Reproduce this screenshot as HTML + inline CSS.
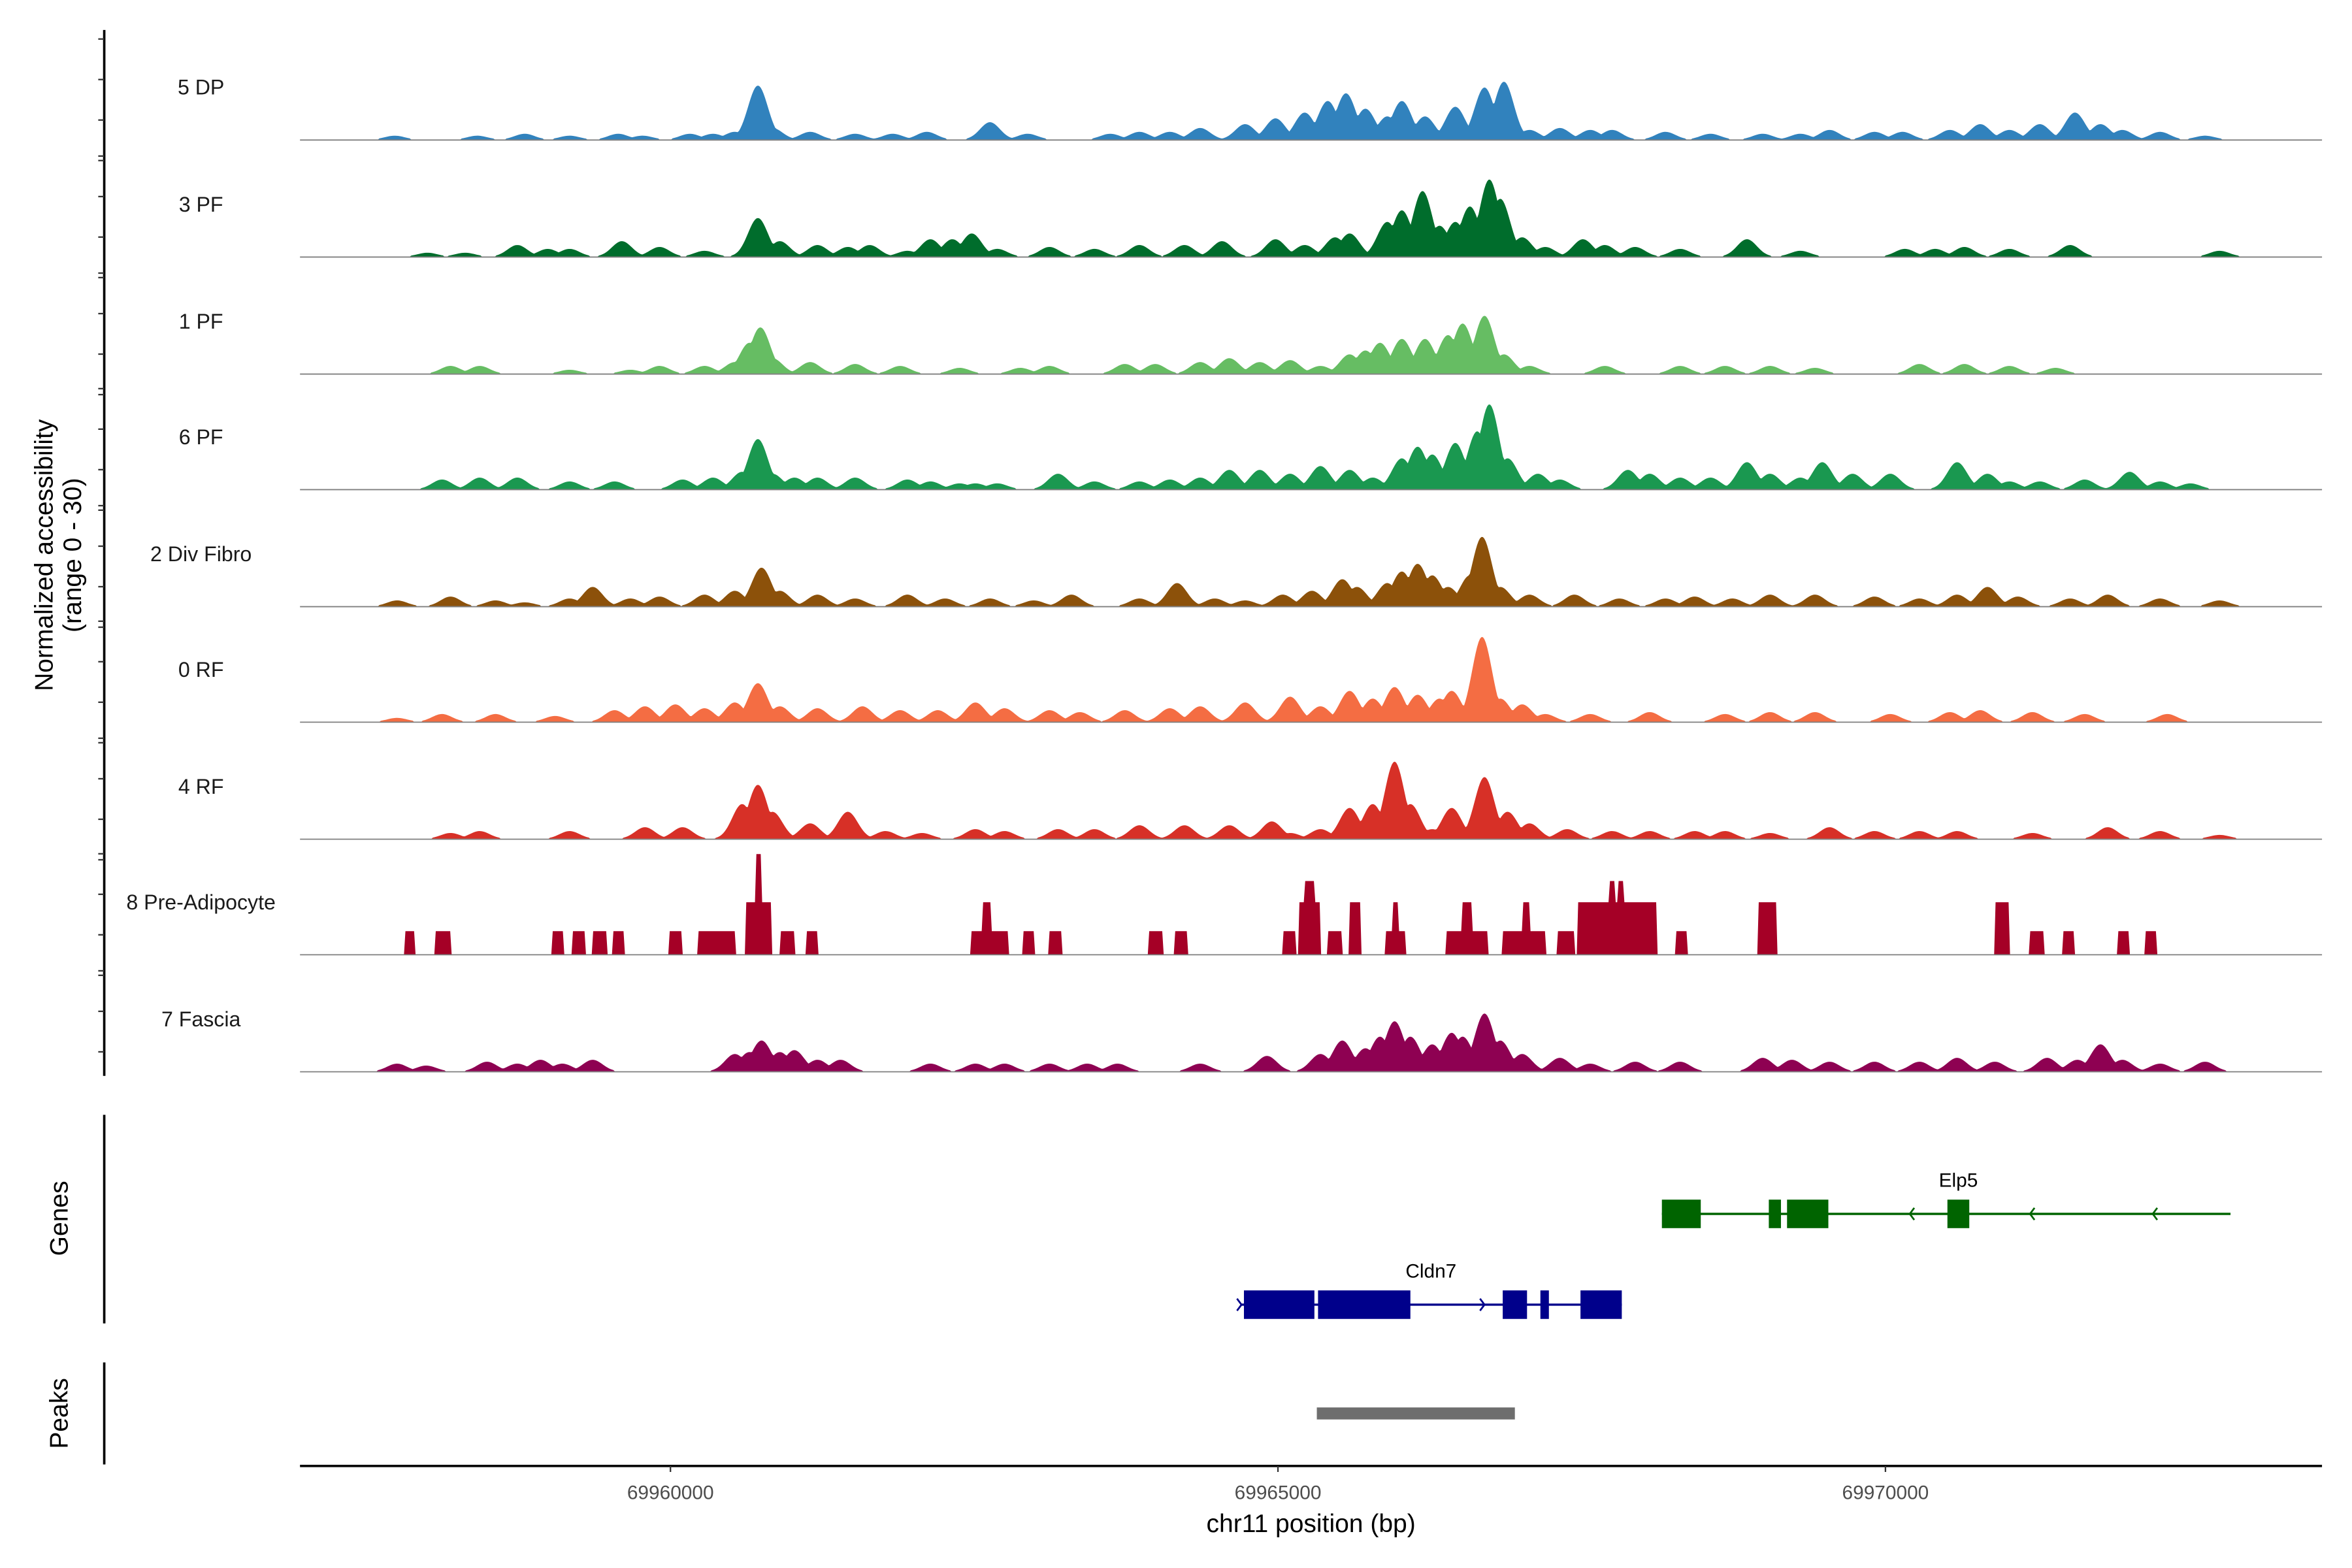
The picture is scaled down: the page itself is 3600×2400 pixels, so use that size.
<!DOCTYPE html>
<html><head><meta charset="utf-8"><style>
html,body{margin:0;padding:0;background:#fff;}
svg{display:block;}
text{font-family:"Liberation Sans",Arial,sans-serif;}
</style></head><body>
<svg id="chart" xmlns="http://www.w3.org/2000/svg" width="3600" height="2400" viewBox="0 0 1568 1045" preserveAspectRatio="none">
<rect x="0" y="0" width="1568" height="1045" fill="#fff"/>
<g id="tracks"></g>
<g id="axes"></g>
<g id="genes"></g>
</svg>
<script>
// ---- data (positions in kb on chr11, heights in normalized accessibility units 0-30) ----
const trackNames = ["5 DP","3 PF","1 PF","6 PF","2 Div Fibro","0 RF","4 RF","8 Pre-Adipocyte","7 Fascia"];
const trackColors = ["#3182BD","#006D2C","#66BD63","#1A9850","#8C510A","#F46D43","#D73027","#A50026","#8E0152"];
const peaks5DP = [[57.73,1],[58.41,1],[58.80,1.5],[59.17,1],[59.57,1.5],[59.77,1],[60.16,1.5],[60.35,1.5],[60.53,2],[60.72,14],[60.84,3],[61.15,2],[61.52,1.5],[61.83,1.5],[62.11,2],[62.63,4.5],[62.94,1.5],[63.62,1.5],[63.86,2],[64.11,2],[64.36,3],[64.73,4],[64.98,5.5],[65.22,7],[65.41,10],[65.56,12],[65.72,8],[65.90,6],[66.02,10],[66.21,6],[66.46,8.5],[66.70,13.5],[66.86,15],[67.07,2.5],[67.32,3],[67.57,2.5],[67.75,2.5],[68.19,2],[68.56,1.5],[68.99,1.5],[69.30,1.5],[69.54,2.5],[69.91,2],[70.14,2],[70.53,2.5],[70.78,4],[71.02,2.5],[71.27,4],[71.56,7],[71.77,4],[71.95,2.5],[72.26,2],[72.63,1]];
const peaks3PF = [[58.00,1],[58.31,1],[58.74,3],[58.99,2],[59.17,2],[59.60,4],[59.91,2.5],[60.28,1.5],[60.72,10],[60.90,4],[61.21,3],[61.46,2.5],[61.64,3],[61.95,1.5],[62.14,4.5],[62.32,4.5],[62.48,6],[62.69,2],[63.12,2.5],[63.49,2],[63.86,3],[64.23,3],[64.54,4],[64.98,4.5],[65.22,3],[65.47,5],[65.59,6],[65.90,9],[66.02,12],[66.19,17],[66.33,8],[66.46,9],[66.58,13],[66.74,20],[66.83,15],[67.01,5],[67.20,2.5],[67.51,4.5],[67.69,3],[67.94,2.5],[68.31,2],[68.86,4.5],[69.30,1.5],[70.16,2],[70.41,2],[70.65,2.5],[71.02,2],[71.52,3],[72.75,1.5]];
const peaks1PF = [[58.19,2],[58.43,2],[59.17,1],[59.67,1],[59.91,2],[60.28,2],[60.53,3],[60.65,8],[60.74,12],[60.84,4],[61.15,3],[61.52,2.5],[61.89,2],[62.38,1.5],[62.88,1.5],[63.12,2],[63.74,2.5],[63.99,2.5],[64.36,3],[64.60,4],[64.85,3],[65.10,3.5],[65.35,2],[65.59,5],[65.72,6],[65.84,8],[66.02,9],[66.21,9],[66.40,10],[66.52,13],[66.70,15],[66.86,5],[67.07,2],[67.69,2],[68.31,2],[68.68,2],[69.05,2],[69.42,1.5],[70.28,2.5],[70.65,2.5],[71.02,2],[71.40,1.5]];
const peaks6PF = [[58.12,2.5],[58.43,3],[58.74,3],[59.17,2],[59.54,2],[60.10,2.5],[60.35,3],[60.59,4.5],[60.72,13],[60.84,4],[61.02,3],[61.21,3],[61.52,3],[61.95,2.5],[62.14,2],[62.38,1.5],[62.51,1.5],[62.69,1.5],[63.19,4],[63.49,2],[63.86,2],[64.11,2.5],[64.36,3],[64.60,5],[64.85,5],[65.10,4],[65.35,6],[65.59,5],[65.78,3],[66.02,8],[66.15,11],[66.27,9],[66.46,12],[66.64,15],[66.74,22],[66.89,8],[67.14,4],[67.32,2.5],[67.88,5],[68.06,4],[68.31,3],[68.56,3],[68.86,7],[69.05,4],[69.30,3],[69.48,7],[69.73,4],[70.04,4],[70.59,7],[70.84,4],[71.02,2],[71.27,2],[71.64,2.5],[72.01,4.5],[72.26,2],[72.51,1.5]];
const peaks2Div = [[57.75,1.5],[58.19,2.5],[58.56,1.5],[58.80,1],[59.17,2],[59.36,5],[59.67,2],[59.91,2.5],[60.28,3],[60.53,4],[60.75,10],[60.90,4],[61.21,3],[61.52,2],[61.95,3],[62.26,2],[62.63,2],[62.99,1.5],[63.30,3],[63.86,2],[64.17,6],[64.48,2],[64.73,1.5],[65.04,3],[65.28,4],[65.53,7],[65.65,5],[65.90,6],[66.02,9],[66.15,11],[66.27,8],[66.40,5],[66.58,8],[66.68,18],[66.83,5],[67.07,3],[67.44,3],[67.81,2],[68.19,2],[68.43,2.5],[68.74,2],[69.05,3],[69.42,3],[69.91,2.5],[70.28,2],[70.59,3],[70.84,5],[71.09,2.5],[71.52,2],[71.83,3],[72.26,2],[72.75,1.5]];
const peaks0RF = [[57.75,1],[58.12,2],[58.56,2],[59.05,1.5],[59.54,3],[59.79,4],[60.04,4.5],[60.28,3.5],[60.53,5],[60.72,10],[60.90,4],[61.21,3.5],[61.58,4],[61.89,3],[62.20,3],[62.51,5],[62.75,3.5],[63.12,3],[63.37,2.5],[63.74,3],[64.11,3.5],[64.36,4],[64.73,5],[65.10,6.5],[65.35,4],[65.59,8],[65.78,6],[65.96,9],[66.15,7],[66.33,6],[66.43,8],[66.58,5],[66.68,22],[66.83,6],[67.01,4.5],[67.20,2],[67.57,2],[68.06,2.5],[68.68,2],[69.05,2.5],[69.42,2.5],[70.04,2],[70.53,2.5],[70.78,3],[71.21,2.5],[71.64,2],[72.32,2]];
const peaks4RF = [[58.19,1.5],[58.43,2],[59.17,2],[59.79,3],[60.10,3],[60.59,9],[60.72,14],[60.84,7],[61.15,4],[61.46,7],[61.77,2],[62.07,1.5],[62.51,2.5],[62.75,2],[63.19,2.5],[63.49,2.5],[63.86,3.5],[64.23,3.5],[64.60,3.5],[64.95,4.5],[65.10,1.5],[65.35,2.5],[65.59,8],[65.78,9],[65.96,20],[66.09,9],[66.27,2.5],[66.43,8],[66.70,16],[66.89,7],[67.07,4],[67.38,2.5],[67.75,2],[68.06,2],[68.43,2],[68.68,2],[69.05,1.5],[69.54,3],[69.91,2],[70.28,2],[70.59,2],[71.21,1.5],[71.83,3],[72.26,2],[72.75,1]];
const blocks8Pre = [[57.81,57.90,6],[58.06,58.19,6],[59.02,59.12,6],[59.19,59.30,6],[59.36,59.48,6],[59.52,59.62,6],[59.99,60.10,6],[60.22,60.53,6],[60.62,60.83,13.5],[60.70,60.75,26],[60.90,61.02,6],[61.12,61.21,6],[62.47,62.78,6],[62.57,62.64,13.5],[62.90,63.00,6],[63.12,63.22,6],[63.93,64.05,6],[64.15,64.26,6],[65.04,65.15,6],[65.17,65.35,13.5],[65.22,65.30,19],[65.41,65.53,6],[65.59,65.68,13.5],[65.89,66.05,6],[65.94,65.99,13.5],[66.38,66.73,6],[66.52,66.60,13.5],[66.85,67.20,6],[67.01,67.07,13.5],[67.30,67.44,6],[67.47,68.12,13.5],[67.73,67.78,19],[67.80,67.85,19],[68.27,68.37,6],[68.95,69.10,13.5],[70.90,71.02,13.5],[71.19,71.30,6],[71.46,71.56,6],[71.91,72.01,6],[72.14,72.23,6]];
const peaks7Fascia = [[57.75,2],[57.99,1.5],[58.49,2.5],[58.74,2],[58.93,3],[59.11,2],[59.36,3],[60.53,4.5],[60.65,5],[60.75,8],[60.90,5],[61.02,5.5],[61.21,3],[61.40,3],[62.14,2],[62.51,2],[62.75,2],[63.12,2],[63.43,2],[63.68,2],[64.36,2],[64.91,4],[65.35,4.5],[65.53,8],[65.72,6],[65.84,9],[65.96,13],[66.09,9],[66.27,7],[66.43,10],[66.52,9],[66.70,15],[66.83,8],[67.01,4.5],[67.32,3.5],[67.57,2],[67.94,2.5],[68.31,2.5],[68.99,3.5],[69.23,3],[69.54,2.5],[69.91,2.5],[70.28,2.5],[70.59,3.5],[70.90,2.5],[71.33,3.5],[71.58,3],[71.77,7],[71.95,3],[72.26,2],[72.63,2.5]];
const xTickValues = [69960000,69965000,69970000];
const xTickLabels = ["69960000","69965000","69970000"];
const elp5Exons = [[68.16,68.48],[69.04,69.14],[69.19,69.53],[70.51,70.69]];
const elp5Span = [68.16,72.84];
const elp5Arrows = [70.20,71.19,72.20];
const cldn7Exons = [[64.72,65.30],[65.33,66.09],[66.85,67.05],[67.16,67.23],[67.49,67.83]];
const cldn7Span = [64.70,67.83];
const cldn7Arrows = [64.70,66.70];
const peakRegions = [[65.32,66.95]];

// ---- scales ----
const NS = "http://www.w3.org/2000/svg";
const X0 = 200, X1 = 1548, KB0 = 56.951, KB1 = 73.593;
function xs(kb){ return X0 + (kb - KB0) / (KB1 - KB0) * (X1 - X0); }
function xbp(bp){ return xs((bp - 69900000) / 1000); }
const baselines = [93,171,249,326,404,481,559,636,714];
const unitPx = 2.57;
function ys(i, v){ return baselines[i] - v * unitPx; }
function mk(tag, attrs, parent){ const e = document.createElementNS(NS, tag); for (const k in attrs) e.setAttribute(k, attrs[k]); parent.appendChild(e); return e; }

const tracksG = document.getElementById('tracks');
const axesG = document.getElementById('axes');
const genesG = document.getElementById('genes');
const peakSets = [peaks5DP,peaks3PF,peaks1PF,peaks6PF,peaks2Div,peaks0RF,peaks4RF,null,peaks7Fascia];

function valAt(i, kb){
  if (i === 7){
    let v = 0;
    for (const b of blocks8Pre){ if (kb >= b[0] && kb <= b[1]) v = Math.max(v, b[2]); }
    return v;
  }
  let v = 0;
  for (const p of peakSets[i]){ const d = (kb - p[0]) / 0.115; v = Math.max(v, p[1] * Math.exp(-d*d)); }
  return v < 0.25 ? 0 : v;
}

for (let i = 0; i < trackNames.length; i++){
  const g = mk('g', {}, tracksG);
  
  
  let d = 'M' + X0 + ',' + baselines[i];
  const N = 1400;
  for (let k = 0; k <= N; k++){
    const kb = KB0 + (KB1 - KB0) * k / N;
    d += 'L' + xs(kb).toFixed(2) + ',' + ys(i, valAt(i, kb)).toFixed(2);
  }
  d += 'L' + X1 + ',' + baselines[i] + 'Z';
  const area = mk('path', {d: d, fill: trackColors[i], stroke: 'none'}, g);
  
  
  const base = mk('line', {x1: X0, x2: X1, y1: baselines[i] + 0.3, y2: baselines[i] + 0.3, stroke: '#7f7f7f', 'stroke-width': 0.8}, g);
  
  
  const lab = mk('text', {x: 134, y: baselines[i] - 30, 'font-size': 14, 'text-anchor': 'middle', fill: '#1a1a1a'}, g);
  lab.textContent = trackNames[i];
  
  
}

// left axis with ticks
const la = mk('line', {x1: 69.5, x2: 69.5, y1: 20, y2: 717, stroke: '#000', 'stroke-width': 1.6}, axesG);


for (let i = 0; i < baselines.length; i++){
  for (const off of [-67, -40, -13, 14]){
    const y = baselines[i] + off;
    if (y > 716) continue;
    const t = mk('line', {x1: 65.5, x2: 69.5, y1: y, y2: y, stroke: '#333', 'stroke-width': 1}, axesG);
    
    
  }
}
const yt = mk('text', {transform: 'translate(35,370) rotate(-90)', 'font-size': 17, 'text-anchor': 'middle', fill: '#000'}, axesG);


const t1 = mk('tspan', {x: 0, dy: 0}, yt); t1.textContent = 'Normalized accessibility';
const t2 = mk('tspan', {x: 0, dy: 19}, yt); t2.textContent = '(range 0 - 30)';

// genes panel axis
const gl = mk('line', {x1: 69.5, x2: 69.5, y1: 743, y2: 882, stroke: '#000', 'stroke-width': 1.6}, axesG);


const gt = mk('text', {transform: 'translate(45,812) rotate(-90)', 'font-size': 17, 'text-anchor': 'middle', fill: '#000'}, axesG);
gt.textContent = 'Genes';


const pl = mk('line', {x1: 69.5, x2: 69.5, y1: 908, y2: 976, stroke: '#000', 'stroke-width': 1.6}, axesG);


const pt = mk('text', {transform: 'translate(45,942) rotate(-90)', 'font-size': 17, 'text-anchor': 'middle', fill: '#000'}, axesG);
pt.textContent = 'Peaks';



// x axis
const xa = mk('line', {x1: X0, x2: X1, y1: 977, y2: 977, stroke: '#000', 'stroke-width': 1.6}, axesG);


for (let k = 0; k < xTickValues.length; k++){
  const x = xbp(xTickValues[k]);
  const tk = mk('line', {x1: x, x2: x, y1: 977, y2: 981, stroke: '#333', 'stroke-width': 1}, axesG);
  
  
  const tl = mk('text', {x: x, y: 999, 'font-size': 13, 'text-anchor': 'middle', fill: '#4d4d4d'}, axesG);
  tl.textContent = xTickLabels[k];
  
  
}
const xt = mk('text', {x: 874, y: 1021, 'font-size': 17, 'text-anchor': 'middle', fill: '#000'}, axesG);
xt.textContent = 'chr11 position (bp)';



// genes
function drawGene(name, span, exons, arrows, y, color, dir){
  const g = mk('g', {}, genesG);
  
  
  const ln = mk('line', {x1: xs(span[0]), x2: xs(span[1]), y1: y, y2: y, stroke: color, 'stroke-width': 1.5}, g);
  
  
  for (const a of arrows){
    const x = xs(a);
    const p = mk('path', {d: 'M' + (x - 3*dir) + ',' + (y - 4) + 'L' + x + ',' + y + 'L' + (x - 3*dir) + ',' + (y + 4), stroke: color, 'stroke-width': 1.2, fill: 'none'}, g);
    
    
  }
  for (const e of exons){
    const r = mk('rect', {x: xs(e[0]), y: y - 9.5, width: xs(e[1]) - xs(e[0]), height: 19, fill: color}, g);
    
    
  }
  const t = mk('text', {x: (xs(exons[exons.length-1][0]) + xs(exons[exons.length-1][1]))/2, y: y - 18, 'font-size': 13, 'text-anchor': 'middle', fill: '#000'}, g);
  t.textContent = name;
  
  
  return t;
}
drawGene('Elp5', elp5Span, elp5Exons, elp5Arrows, 809, '#006400', -1);
const cl = drawGene('Cldn7', cldn7Span, cldn7Exons, cldn7Arrows, 869.5, '#00008B', 1);
cl.setAttribute('x', 954);
for (const pr of peakRegions){
  const r = mk('rect', {x: xs(pr[0]), y: 938, width: xs(pr[1]) - xs(pr[0]), height: 8, fill: '#6e6e6e'}, genesG);
  
  
}
</script>
</body></html>
